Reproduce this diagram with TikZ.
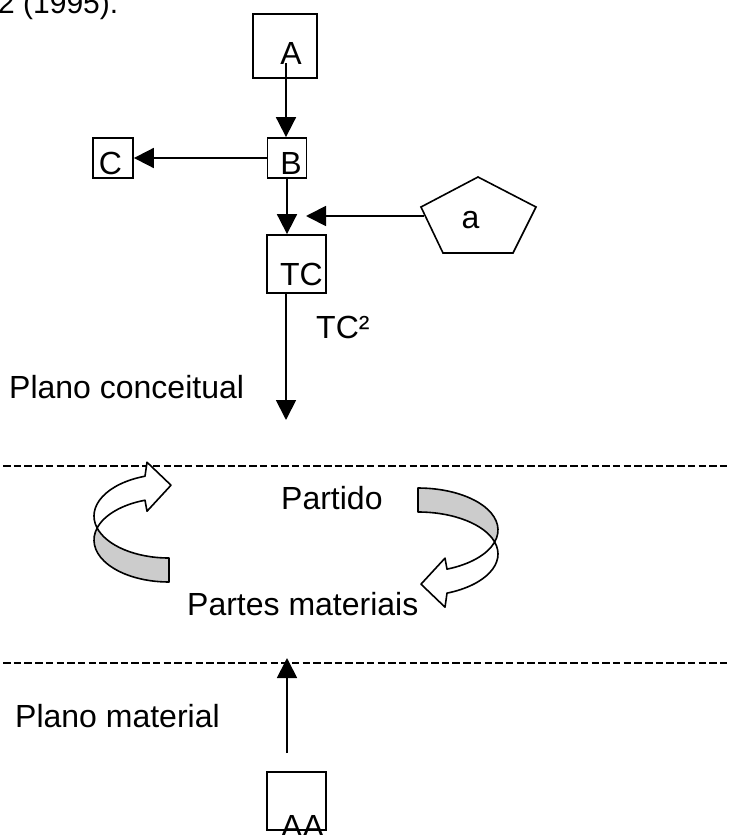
\documentclass[tikz,border=0pt]{standalone}
\usepackage{fontspec}
\setmainfont{Liberation Sans}
\usetikzlibrary{arrows.meta,calc}
\definecolor{ribbongray}{RGB}{204,204,204}

% Curved ribbon arrow: #1 centre of the inner ellipse, #2 rotation,
% #3 horizontal radius, #4 vertical radius, #5 band thickness, #6 x of the arrow neck
\newcommand\ribbonarrow[6]{%
  \begin{scope}[shift={#1},rotate=#2]
    \pgfmathsetmacro\rbw{#3}%
    \pgfmathsetmacro\rbh{#4}%
    \pgfmathsetmacro\rbt{#5}%
    \pgfmathsetmacro\rbp{asin(\rbt/(2*\rbh))}%
    \pgfmathsetmacro\rbn{acos(#6/\rbw)}%
    \pgfmathsetmacro\rby{\rbh*sin(\rbn)}%
    % back face of the band
    \filldraw[ribbon, fill=ribbongray] (0,-\rbh)
      arc[start angle=-90, end angle=\rbp, x radius=\rbw, y radius=\rbh]
      arc[start angle=-\rbp, end angle=-90, x radius=\rbw, y radius=\rbh] -- cycle;
    % front face with the arrow head
    \filldraw[ribbon, fill=white] ({\rbw*cos(\rbp)},{\rbh*sin(\rbp)})
      arc[start angle=-\rbp, end angle=\rbn, x radius=\rbw, y radius=\rbh]
      -- ++(-2,14) -- ({#6-26},{\rby+\rbt/2+3}) -- ({#6-2},{\rby-11}) -- (#6,\rby)
      arc[start angle=\rbn, end angle=\rbp, x radius=\rbw, y radius=\rbh] -- cycle;
  \end{scope}}

\begin{document}
\begin{tikzpicture}[x=1pt,y=-1pt,
  font=\fontsize{32}{38}\selectfont,
  box/.style={draw, line width=1.8pt, inner sep=0pt},
  txt/.style={inner sep=0pt, anchor=base},
  ltxt/.style={inner sep=0pt, anchor=base west},
  conn/.style={line width=1.8pt, -{Triangle[length=20pt,width=20pt]}},
  divider/.style={line width=2.6pt, dash pattern=on 7.5pt off 3.2pt},
  ribbon/.style={line width=1.6pt, line join=round}]
\useasboundingbox (0,0) rectangle (728,835);

% heading fragment
\node[ltxt, font=\fontsize{30}{36}\selectfont] (ref) at (-2,13) {2 (1995).};

% boxes
\node[box, minimum width=64pt, minimum height=64pt] (A) at (285,46) {};
\node[box, minimum width=39pt, minimum height=40pt] (B) at (287,158) {};
\node[box, minimum width=40pt, minimum height=40pt] (C) at (113,158) {};
\node[box, minimum width=59pt, minimum height=58pt] (TC) at (296.5,264) {};
\node[box, minimum width=59pt, minimum height=58pt] (AA) at (296.5,801) {};

\node[txt] (Atxt) at (291,64) {A};
\node[txt] (Btxt) at (291,174) {B};
\node[txt] (Ctxt) at (110.5,174) {C};
\node[txt] (TCtxt) at (301.5,285) {TC};
\node[txt] (AAtxt) at (302.5,837) {AA};

% pentagon
\coordinate (p1) at (478,177);
\coordinate (p2) at (536,207);
\coordinate (p3) at (513,253);
\coordinate (p4) at (443,253);
\coordinate (p5) at (421,207);
\draw[line width=1.6pt, line join=miter] (p1) -- (p2) -- (p3) -- (p4) -- (p5) -- cycle;
\node[txt] (atxt) at (470.5,228) {a};

% connectors
\coordinate (Astart) at (286,63);
\coordinate (pentL) at (424,216);
\coordinate (inTip) at (306,216);
\coordinate (TCend) at (286,420);
\coordinate (AAstart) at (287,753);
\coordinate (AAend) at (287,658);
\draw[conn] (Astart) -- (Astart |- B.north);
\draw[conn] (B.west) -- (C.east);
\draw[conn] (B.south) -- (B.south |- TC.north);
\draw[conn] (pentL) -- (inTip);
\draw[conn] (TCend |- TC.south) -- (TCend);
\draw[conn] (AAstart) -- (AAend);

% labels
\node[ltxt] (tc2) at (316,338) {TC²};
\node[ltxt] (pc) at (9,398) {Plano conceitual};
\node[ltxt] (partido) at (281,509) {Partido};
\node[ltxt] (pm) at (187,615) {Partes materiais};
\node[ltxt] (pmat) at (15,727) {Plano material};

% dividers
\draw[divider] (3,466) -- (730,466);
\draw[divider] (3,663) -- (730,663);

% curved ribbon arrows
\ribbonarrow{(169,540)}{180}{75}{42}{24}{24}
\ribbonarrow{(418,530)}{0}{80}{42}{24}{29}
\end{tikzpicture}
\end{document}
